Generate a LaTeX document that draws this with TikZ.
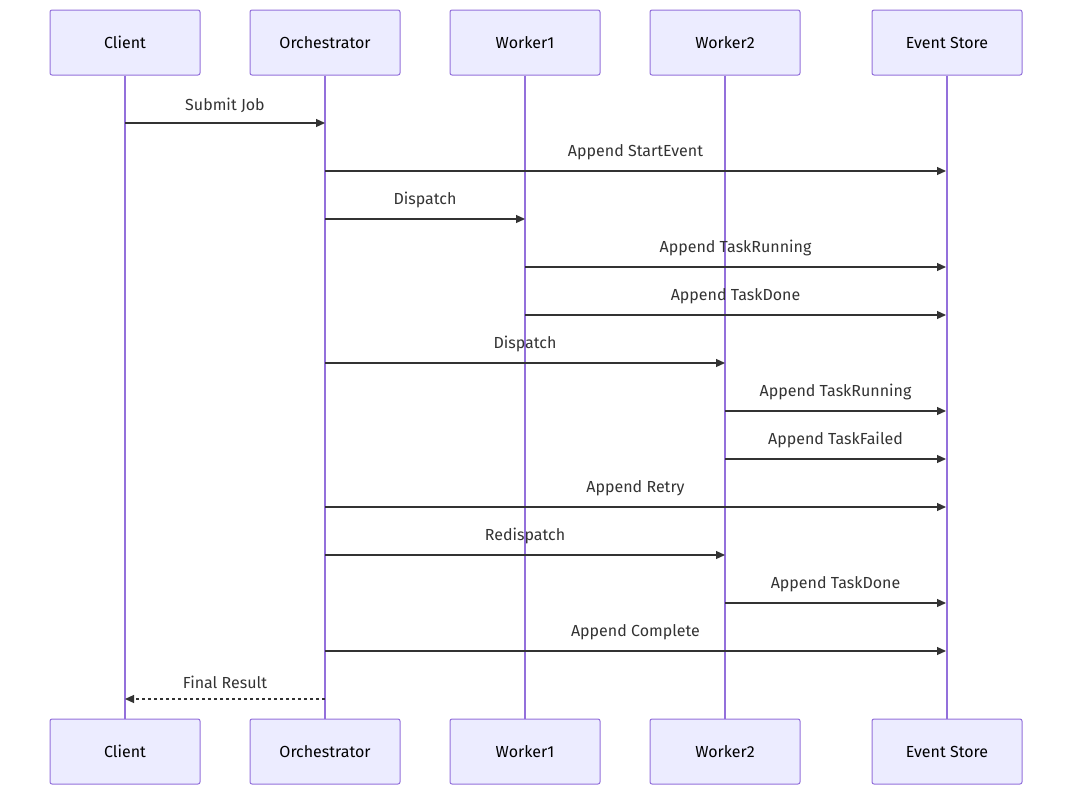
\documentclass[tikz,border=0pt]{standalone}
\usepackage{fontspec}
\setmainfont{Fira Sans}
\usetikzlibrary{arrows.meta}
\definecolor{boxfill}{HTML}{ECECFF}
\definecolor{boxline}{HTML}{9370DB}
\definecolor{msg}{HTML}{333333}
\begin{document}
\begin{tikzpicture}[x=1pt,y=-1pt,
  actor/.style={draw=boxline,fill=boxfill,line width=1pt,rounded corners=2pt,minimum width=150pt,minimum height=65pt,inner sep=0pt,font=\fontsize{16}{19}\selectfont,text=black},
  life/.style={draw=boxline,line width=1.3pt},
  m/.style={draw=msg,line width=1.2pt,-{Triangle[length=9pt,width=8pt]}},
  d/.style={m,dash pattern=on 3pt off 3pt},
  lbl/.style={font=\fontsize{16}{19}\selectfont,text=msg,anchor=south,inner sep=0pt}]
\useasboundingbox (0,0) rectangle (1072,795);
\foreach \n/\x/\t in {c/125/Client,o/325/Orchestrator,a/525/Worker1,b/725/Worker2,e/947/Event Store}{
  \node[actor] (\n T) at (\x,42.5) {\t};
  \node[actor] (\n B) at (\x,751.5) {\t};
  \draw[life] (\n T.south) -- (\n B.north);
}
\foreach \i/\y in {1/123,2/171,3/219,4/267,5/315,6/363,7/411,8/459,9/507,10/555,11/603,12/651,13/699}{
  \foreach \n/\x in {c/125,o/325,a/525,b/725,e/946}{\coordinate (\n\i) at (\x,\y);}
}
\foreach \f/\t/\i/\l in {c/o/1/Submit Job,o/e/2/Append StartEvent,o/a/3/Dispatch,a/e/4/Append TaskRunning,a/e/5/Append TaskDone,o/b/6/Dispatch,b/e/7/Append TaskRunning,b/e/8/Append TaskFailed,o/e/9/Append Retry,o/b/10/Redispatch,b/e/11/Append TaskDone,o/e/12/Append Complete}{
  \draw[m] (\f\i) -- node[lbl,yshift=10pt] {\l} (\t\i);
}
\draw[d] (o13) -- node[lbl,yshift=10pt] {Final Result} (c13);
\end{tikzpicture}
\end{document}
